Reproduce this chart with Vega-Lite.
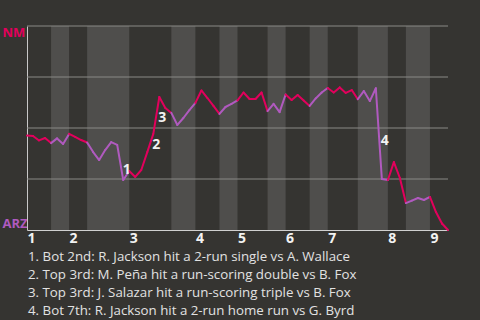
{
  "$schema": "https://vega.github.io/schema/vega-lite/v6.json",
  "width": 421,
  "height": 204,
  "autosize": {"type": "none"},
  "padding": {"left": 27, "top": 26, "right": 32, "bottom": 90},
  "background": "#353431",
  "config": {"view": {"stroke": null}, "font": "Open Sans"},
  "title": {
    "text": [
      "1. Bot 2nd: R. Jackson hit a 2-run single vs A. Wallace",
      "2. Top 3rd: M. Peña hit a run-scoring double vs B. Fox",
      "3. Top 3rd: J. Salazar hit a run-scoring triple vs B. Fox",
      "4. Bot 7th: R. Jackson hit a 2-run home run vs G. Byrd"
    ],
    "orient": "bottom",
    "anchor": "start",
    "frame": "group",
    "align": "left",
    "baseline": "top",
    "offset": 5,
    "dx": 1,
    "fontSize": 13.3,
    "fontWeight": "normal",
    "font": "Open Sans",
    "color": "#e2e2e2",
    "lineHeight": 18
  },
  "datasets": {
    "bands": [
      {"start": 4, "end": 7}, {"start": 10, "end": 17}, {"start": 24, "end": 28},
      {"start": 32, "end": 35}, {"start": 40, "end": 43}, {"start": 47, "end": 50},
      {"start": 55, "end": 60}, {"start": 63, "end": 67}
    ],
    "grid": [{"g": 0.25}, {"g": 0.5}, {"g": 0.75}, {"g": 1}],
    "points": [
      {"i": 0, "p": 0.463, "half": "top"}, {"i": 1, "p": 0.461, "half": "top"},
      {"i": 2, "p": 0.439, "half": "top"}, {"i": 3, "p": 0.451, "half": "top"},
      {"i": 4, "p": 0.426, "half": "top"}, {"i": 5, "p": 0.449, "half": "bot"},
      {"i": 6, "p": 0.422, "half": "bot"}, {"i": 7, "p": 0.471, "half": "bot"},
      {"i": 8, "p": 0.456, "half": "top"}, {"i": 9, "p": 0.441, "half": "top"},
      {"i": 10, "p": 0.429, "half": "top"}, {"i": 11, "p": 0.382, "half": "bot"},
      {"i": 12, "p": 0.343, "half": "bot"}, {"i": 13, "p": 0.392, "half": "bot"},
      {"i": 14, "p": 0.431, "half": "bot"}, {"i": 15, "p": 0.417, "half": "bot"},
      {"i": 16, "p": 0.245, "half": "bot"}, {"i": 17, "p": 0.289, "half": "bot"},
      {"i": 18, "p": 0.26, "half": "top"}, {"i": 19, "p": 0.294, "half": "top"},
      {"i": 20, "p": 0.382, "half": "top"}, {"i": 21, "p": 0.471, "half": "top"},
      {"i": 22, "p": 0.652, "half": "top"}, {"i": 23, "p": 0.598, "half": "top"},
      {"i": 24, "p": 0.574, "half": "top"}, {"i": 25, "p": 0.515, "half": "bot"},
      {"i": 26, "p": 0.549, "half": "bot"}, {"i": 27, "p": 0.588, "half": "bot"},
      {"i": 28, "p": 0.623, "half": "bot"}, {"i": 29, "p": 0.684, "half": "top"},
      {"i": 30, "p": 0.647, "half": "top"}, {"i": 31, "p": 0.608, "half": "top"},
      {"i": 32, "p": 0.569, "half": "top"}, {"i": 33, "p": 0.603, "half": "bot"},
      {"i": 34, "p": 0.618, "half": "bot"}, {"i": 35, "p": 0.635, "half": "bot"},
      {"i": 36, "p": 0.674, "half": "top"}, {"i": 37, "p": 0.642, "half": "top"},
      {"i": 38, "p": 0.642, "half": "top"}, {"i": 39, "p": 0.674, "half": "top"},
      {"i": 40, "p": 0.583, "half": "top"}, {"i": 41, "p": 0.618, "half": "bot"},
      {"i": 42, "p": 0.578, "half": "bot"}, {"i": 43, "p": 0.664, "half": "bot"},
      {"i": 44, "p": 0.637, "half": "top"}, {"i": 45, "p": 0.662, "half": "top"},
      {"i": 46, "p": 0.635, "half": "top"}, {"i": 47, "p": 0.608, "half": "top"},
      {"i": 48, "p": 0.645, "half": "bot"}, {"i": 49, "p": 0.674, "half": "bot"},
      {"i": 50, "p": 0.696, "half": "bot"}, {"i": 51, "p": 0.674, "half": "top"},
      {"i": 52, "p": 0.699, "half": "top"}, {"i": 53, "p": 0.672, "half": "top"},
      {"i": 54, "p": 0.686, "half": "top"}, {"i": 55, "p": 0.641, "half": "top"},
      {"i": 56, "p": 0.681, "half": "bot"}, {"i": 57, "p": 0.632, "half": "bot"},
      {"i": 58, "p": 0.695, "half": "bot"}, {"i": 59, "p": 0.25, "half": "bot"},
      {"i": 60, "p": 0.245, "half": "bot"}, {"i": 61, "p": 0.333, "half": "top"},
      {"i": 62, "p": 0.255, "half": "top"}, {"i": 63, "p": 0.132, "half": "top"},
      {"i": 64, "p": 0.144, "half": "bot"}, {"i": 65, "p": 0.157, "half": "bot"},
      {"i": 66, "p": 0.147, "half": "bot"}, {"i": 67, "p": 0.162, "half": "bot"},
      {"i": 68, "p": 0.088, "half": "top"}, {"i": 69, "p": 0.032, "half": "top"},
      {"i": 70, "p": 0.0, "half": "top"}
    ],
    "notes": [
      {"x": 16.6, "p": 0.293, "label": "1"},
      {"x": 21.5, "p": 0.419, "label": "2"},
      {"x": 22.5, "p": 0.55, "label": "3"},
      {"x": 59.5, "p": 0.435, "label": "4"}
    ]
  },
  "layer": [
    {
      "data": {"name": "bands"},
      "mark": {"type": "rect", "color": "#4f4e4c"},
      "encoding": {
        "x": {
          "field": "start", "type": "quantitative",
          "scale": {"domain": [0, 70], "nice": false, "zero": false},
          "axis": {
            "values": [0, 7, 17, 28, 35, 43, 50, 60, 67],
            "labelExpr": "indexof([0, 7, 17, 28, 35, 43, 50, 60, 67], datum.value) + 1",
            "title": null, "grid": false, "ticks": false, "tickSize": 0,
            "domain": true, "domainColor": "#d0d0d0", "domainWidth": 1,
            "labelAlign": "left", "labelBaseline": "top", "labelPadding": 1,
            "labelFontSize": 14, "labelFontWeight": "bold", "labelColor": "#f2f2f2",
            "labelFlush": false, "labelOverlap": false
          }
        },
        "x2": {"field": "end"},
        "y": {
          "datum": 0, "type": "quantitative",
          "scale": {"domain": [0, 1], "nice": false},
          "axis": {
            "values": [0, 1],
            "labelExpr": "datum.value == 1 ? 'NM' : 'ARZ'",
            "title": null, "grid": false, "ticks": false, "tickSize": 0,
            "domain": true, "domainColor": "#c8c8c8", "domainWidth": 1,
            "labelAlign": "left", "labelPadding": 25,
            "labelBaseline": {"condition": {"test": "datum.value == 1", "value": "top"}, "value": "bottom"},
            "labelColor": {"condition": {"test": "datum.value == 1", "value": "#e2005c"}, "value": "#b05abf"},
            "labelFontSize": 13, "labelFontWeight": "bold",
            "labelFlush": false, "labelOverlap": false
          }
        },
        "y2": {"datum": 1}
      }
    },
    {
      "data": {"name": "grid"},
      "mark": {"type": "rule", "color": "#8a8986", "strokeWidth": 1},
      "encoding": {"y": {"field": "g", "type": "quantitative"}}
    },
    {
      "data": {"name": "points"},
      "transform": [
        {"window": [{"op": "lag", "field": "i", "as": "pi"}, {"op": "lag", "field": "p", "as": "pp"}], "sort": [{"field": "i"}]},
        {"filter": "datum.pi != null"}
      ],
      "mark": {"type": "rule", "strokeWidth": 2, "strokeCap": "round"},
      "encoding": {
        "x": {"field": "pi", "type": "quantitative"},
        "x2": {"field": "i"},
        "y": {"field": "pp", "type": "quantitative"},
        "y2": {"field": "p"},
        "color": {"field": "half", "type": "nominal", "scale": {"domain": ["top", "bot"], "range": ["#e2005c", "#b05abf"]}, "legend": null}
      }
    },
    {
      "data": {"name": "notes"},
      "mark": {"type": "text", "fontWeight": "bold", "fontSize": 14, "color": "#f2f2f2", "align": "center", "baseline": "middle"},
      "encoding": {
        "x": {"field": "x", "type": "quantitative"},
        "y": {"field": "p", "type": "quantitative"},
        "text": {"field": "label"}
      }
    }
  ]
}
